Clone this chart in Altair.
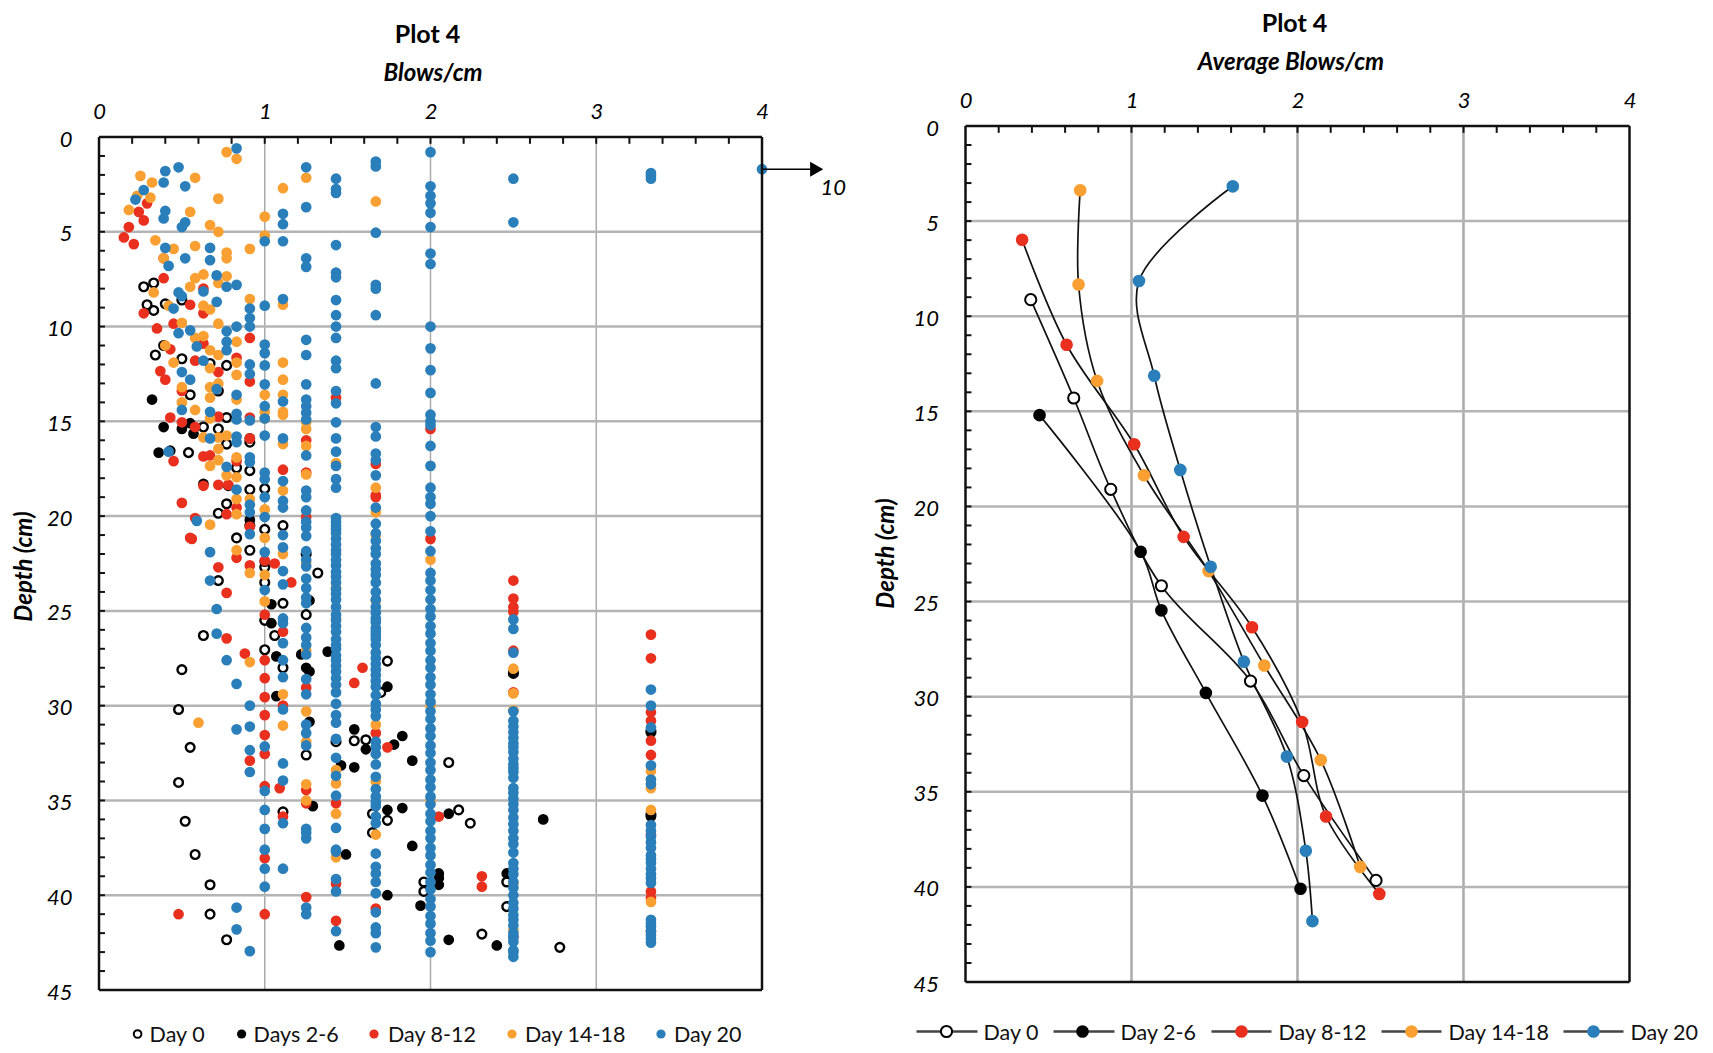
import altair as alt
import pandas as pd

FONT = "Lato"
COL = {"Day 0": "#ffffff", "Days 2-6": "#000000", "Day 8-12": "#e9301f",
       "Day 14-18": "#faa032", "Day 20": "#2a7fba"}

# ---- left panel: depth readings (cm) by blows/cm column ----
day0 = {
 .27:[7.9,], .33:[7.7,9.15], .29:[8.85], .4:[8.8], .39:[11], .34:[11.5], .5:[8.6,11.7,28.1],
 .67:[11.95,39.45,41], .77:[12.05,14.8,16.2,19.35,42.35], .55:[13.6,32.2], .72:[13.4,15.4,19.85,23.4],
 .63:[15.3,26.3], .54:[16.65], .91:[16.1,17.6,18.6,20.5,21.8], .83:[17.45,21.15],
 1.0:[18.55,20.7,22.7,23.5,25.5,27.05], 1.11:[20.5,24.6,28,35.6], 1.32:[23], 1.25:[22,25.2,32.6],
 1.06:[26.3], 1.74:[27.65,36.05], .48:[30.2,34.05], .52:[36.1], .58:[37.85],
 1.43:[31.9], 1.54:[31.85], 1.61:[31.8], 1.7:[29.3], 1.65:[35.7,36.7], 2.11:[33], 2.17:[35.5],
 2.24:[36.2], 2.31:[42.05], 2.78:[42.75], 2.5:[28.3], 2.46:[39.3,40.6], 1.96:[39.3,39.8], 3.33:[31.4,35.75],
}
day2_6 = {
 .32:[13.85], .39:[15.3], .5:[15.4], .55:[15.1], .57:[15.65], .36:[16.65], .43:[16.55],
 .63:[18.3], .78:[18.4], 1.04:[24.65,25.65], 1.27:[24.45,28.2,30.85], 1.07:[27.4,29.5], 1.22:[27.3],
 1.38:[27.15], 1.25:[28], 1.74:[29,35.5,40], 1.54:[31.25,33.25], 1.61:[32.3], 1.78:[32.05], 1.83:[31.6,35.4],
 1.89:[32.9,37.4], 1.46:[33.15], 1.29:[35.3], 1.49:[37.85], 1.94:[40.55], 1.45:[42.65],
 2.05:[38.85,39.1,39.45], 2.11:[35.7,42.35], 2.4:[42.65], 2.68:[36], 2.46:[38.85], 2.5:[28.25], 3.33:[31.3,35.85],
 .91:[15.9,20.2], 1.0:[22.4],
}
day8_12 = {
 .29:[3.5], .24:[3.95], .27:[4.4,9.3], .18:[4.75], .15:[5.3], .21:[5.65], .39:[6.4,7.45],
 .48:[7.4,9.1], .63:[8,9.3,10.9,16.85,18.4], .55:[8.85,21.15], .35:[10.1], .45:[9.85,17.1], .43:[11.2,14.8],
 .58:[11.8,15.3,20.1], .37:[12.35], .4:[12.8], .72:[12.4,14.75,18.35,22.7], .83:[11.65,17.1,19.55,22.2],
 .91:[10.6,12.9,14.8,15.9,20.55,22.6,32.9], 1.43:[13.75,35.15,39.4,41.35], .5:[13.4,15.05,19.3], .67:[16.8],
 1.11:[17.55,26.1,30,35.85], 1.25:[16,17.7,20.05,29.05,34.45,35.15,40.1], .78:[18.35], .77:[19.9,24.05,26.45],
 1.0:[22.35,25.2,27.6,28.55,29.55,30.5,31.55,32.55,34.25,38.05,41], 1.06:[22.5], 1.16:[23.5], .88:[27.25],
 1.67:[17.25,18.9,19,31.45,40.7], 2.0:[15.4,21.2], 1.59:[28], 1.54:[28.8], 1.74:[32.2], 2.05:[35.85], 1.09:[34.35],
 .48:[41,], .56:[21.2], 2.31:[39,39.55],
 2.5:[23.4,24.35,24.8,25.05,27.1,29.3,42.2], 3.33:[26.25,27.5,30.35,30.8,31.85,32.6,36.8,39.8,40.15,41.9],
}
day14_18 = {
 .77:[.8,6.1,6.4,7.35,15.75,17.85], .83:[1.15,10.8,11.9,12.55,13.85,16.9,17.95,19.1,19.9,21.8],
 .25:[2.05], .32:[2.4], .23:[3.1], .31:[3.2], .18:[3.85], .58:[2.15,5.75,7.45,10.6,14.4], .72:[3.25,5,7.7,9.85,11.5,13,15.85,16.45,17.05],
 .55:[3.95,7.9], .67:[4.65,9.1,11.25,12.2,13.2,13.75,14.85,17.35,20.45], .34:[5.45], .45:[5.9,11.9], .39:[6.4],
 .91:[5.9,8.55,19.1,23,27.7], 1.0:[4.2,5.2,13.6,14.5,14.85,19.65,21.15,23.1,24.5],
 1.11:[2.7,8.85,11.9,12.8,13.6,14.5,14.65,16.2,18.65,22,29.4,31.05], 1.25:[2.15,15.05,15.4,16.3,17.8,22.45,27.1,30.3,31.9,34.15,35],
 1.67:[3.4,18.5,19.8,21,24.45,31,34,36.8], .63:[7.25,8.9,10.5,15.85], .33:[8.2], .42:[8.9], .5:[9.8,13.2,14], .4:[11],
 1.43:[17.2,23.8,25.4,33.4,34.1,35.7,38], 2.0:[22.3,30,35], .6:[30.9],
 2.5:[28.05,29.35,30.25,39.35,41.85], 3.33:[33.45,34.35,35.5,40.35],
}
day20 = {
 .83:[.6,7.8,10,13.6,14.6,14.9,15.8,16.1,18.6,28.85,31.25,40.65,41.8], .4:[1.8,3.9,5.85], .48:[1.6,8.2,10.35], .39:[2.4,4.3],
 .52:[2.6,4.5,6.4], .27:[2.8], .22:[3.3], .5:[4.75,8.4,12.4,14.4], .67:[5.85,6.5,14.5,15.9,21.9,23.4], .42:[6.8,16.6],
 .71:[7.3,8.7,13.3,24.9,26.2], .77:[7.9,10.25,10.8,11.25,17.4,27.6], .63:[8.15,11.8], .45:[9.05], .55:[10.2,12.8], .59:[11.05,20.25],
 .91:[9.05,9.55,10,12,12.5,14.95,16.9,17.15,19.4,19.8,20.95,30,31.1,32.35,33.5,42.95],
 1.0:[5.5,8.9,10.95,11.4,12.05,13.05,14.2,14.85,15.75,17.7,18.05,19,20.05,21.9,23.9,32.15,34.5,35.5,36.5,37.6,38.6,39.55],
 1.11:[4.05,4.6,5.5,8.55,13.95,15.9,18.15,19.2,19.55,21,21.65,22.9,23.6,25.4,25.65,26.7,27.6,28.5,30.2,33.05,33.95,36.2,38.6],
 1.25:[1.6,3.7,6.4,6.85,10.7,11.5,13.05,13.85,14.2,14.55,14.9,16.8,18.65,19,19.7,20.3,20.6,21.05,21.85,22.3,22.65,23.3,23.8,24.3,24.6,25.9,26.4,26.8,27.3,28.6,29.4,31,31.45,32.1,36.5,36.7,37,40.65,41],
 1.43:[2.2,2.75,2.95,5.7,7.15,7.4,8.6,9.4,10,10.6,11.8,12.2,13.4,14.05,15.05,15.9,16.6,17.35,18.05,18.5,20.1,20.3,20.5,20.7,20.9,21.2,21.5,21.8,22,22.3,22.6,22.95,23.2,23.5,23.85,24.1,24.4,24.8,25.2,25.5,25.8,26.1,26.5,26.8,27,27.35,27.6,27.9,28.2,28.55,28.9,29.3,29.9,30.5,30.9,31.75,32.75,33.7,34.75,36.45,37.6,37.7,39.15,39.8,41.9],
 1.67:[1.3,1.55,5.05,7.8,8,9.4,13,15.3,15.8,16.7,17.05,17.85,19.55,20.4,20.9,21.3,21.7,22,22.5,22.8,23.1,23.5,24,24.4,24.8,25.1,25.4,25.6,25.9,26.1,26.3,26.5,26.8,27.2,27.5,27.8,28.1,28.4,28.7,29,29.45,29.9,30.2,30.55,31.9,32.2,32.55,33.1,33.75,34.4,34.8,35.1,35.3,35.85,36.2,37.8,38.5,38.85,39.3,39.9,40.9,41.7,42,42.75],
 2.0:[.8,2.6,3.1,3.5,4,4.75,6.15,6.7,10,11.15,12.3,13.5,14.65,15,15.2,16.3,17.35,18.5,19,19.35,20,20.8,21.85,23,23.4,23.9,24.4,24.9,25.3,25.8,26.2,26.7,27.1,27.6,28,28.5,28.9,29.4,29.8,30.3,30.7,31.2,31.6,32.1,32.5,33,33.4,33.9,34.3,34.8,35.2,35.7,36.1,36.6,37,37.5,37.9,38.4,38.8,39.3,39.7,40.2,40.6,41.1,41.5,42,42.4,43],
 2.5:[2.2,4.5,25.45,25.95,27.2,30.3,30.8,31.1,31.4,31.7,32,32.2,32.45,32.8,33.1,33.3,33.5,33.8,34.35,34.6,34.9,35.2,35.5,35.9,36.25,36.6,37,37.3,37.75,38.3,38.6,38.9,39.3,39.6,40,40.4,40.7,41.05,41.3,41.6,42,42.2,42.45,42.9,43,43.25],
 3.33:[1.9,2.05,2.2,29.15,30,31.15,33.15,33.9,34.15,36.3,36.6,36.9,37.2,37.5,37.9,38.1,38.3,38.6,38.9,39.1,39.35,41.3,41.5,41.65,41.9,42.1,42.3,42.5],
 4.0:[1.7],
}
scatter = [("Day 0", day0), ("Days 2-6", day2_6), ("Day 8-12", day8_12), ("Day 14-18", day14_18), ("Day 20", day20)]

# ---- right panel: averages (blows/cm, depth) ----
avg_day0 = ([.393,.652,.875,1.18,1.717,2.038,2.473], [9.13,14.3,19.1,24.17,29.18,34.15,39.66])
avg_day2_6 = ([.446,1.055,1.18,1.448,1.789,2.018], [15.2,22.38,25.46,29.8,35.2,40.1])
avg_day8_12 = ([.341,.609,1.016,1.314,1.726,2.028,2.172,2.493], [5.98,11.5,16.73,21.6,26.35,31.33,36.3,40.37])
avg_day14_18 = ([.691,.681,.793,1.075,1.464,1.80,2.14,2.378], [3.38,8.33,13.4,18.36,23.4,28.36,33.33,38.95])
avg_day20 = ([1.61,1.045,1.137,1.294,1.477,1.677,1.936,2.05,2.09], [3.17,8.15,13.13,18.08,23.17,28.16,33.15,38.1,41.8])
averages = [("Day 0", avg_day0), ("Day 2-6", avg_day2_6), ("Day 8-12", avg_day8_12), ("Day 14-18", avg_day14_18), ("Day 20", avg_day20)]
avg_col = dict(zip([a[0] for a in averages], COL.values()))

x_ticks = [0, 1, 2, 3, 4]
y_ticks = [0, 5, 10, 15, 20, 25, 30, 35, 40, 45]
x_grid = [1, 2, 3]
y_grid = [5, 10, 15, 20, 25, 30, 35, 40]
x_minor = [.2,.4,.6,.8,1,1.2,1.4,1.6,1.8,2,2.2,2.4,2.6,2.8,3,3.2,3.4,3.6,3.8]
y_minor = list(range(1, 45))
arrow_x = [4.0, 4.33]
arrow_depth = 1.7
TICK_D, TICK_X = 0.36, 0.036


def X(title, label_pad, title_pad, title_x):
    return alt.X("x:Q", scale=alt.Scale(domain=[0, 4], nice=False, zero=False),
                 axis=alt.Axis(orient="top", values=x_ticks, grid=False, domain=False, tickSize=0, format="d",
                               labelPadding=label_pad, labelFont=FONT, labelFontStyle="italic", labelFontSize=22, labelColor="#000",
                               labelFlush=False, title=title, titleFont=FONT, titleFontStyle="italic", titleFontWeight="bold",
                               titleFontSize=24, titleColor="#000", titlePadding=title_pad, titleX=title_x))


def Y(pad, rng, title_y):
    return alt.Y("d:Q", scale=alt.Scale(domain=[0, 45], range=rng, nice=False, zero=False),
                 axis=alt.Axis(values=y_ticks, grid=False, domain=False, tickSize=0, format="d",
                               labelPadding=27, labelFont=FONT, labelFontStyle="italic", labelFontSize=22, labelColor="#000",
                               labelFlush=False, labelBaseline="top", labelOffset=-8,
                               title="Depth (cm)", titleFont=FONT, titleFontStyle="italic", titleFontWeight="bold",
                               titleFontSize=24, titleColor="#000", titlePadding=pad, titleY=title_y))


def rules(df, xe, ye, **kw):
    return alt.Chart(df).mark_rule(**kw).encode(x=xe, x2=alt.X2("x2:Q"), y=ye, y2=alt.Y2("d2:Q"))


def frame_layers(xe, ye, xgw, ygw):
    v = lambda xs, a, b: pd.DataFrame({"x": xs, "x2": xs, "d": [a] * len(xs), "d2": [b] * len(xs)})
    h = lambda ds, a, b: pd.DataFrame({"d": ds, "d2": ds, "x": [a] * len(ds), "x2": [b] * len(ds)})
    under = [rules(v(x_grid, 0, 45), xe, ye, color="#aaaaaa", strokeWidth=xgw),
             rules(h(y_grid, 0, 4), xe, ye, color="#b4b4b4", strokeWidth=ygw)]
    over = [rules(v(x_minor, 0, TICK_D), xe, ye, color="#111", strokeWidth=2),
            rules(h(y_minor, 0, TICK_X), xe, ye, color="#111", strokeWidth=2),
            rules(v([0, 4], 0, 45), xe, ye, color="#111", strokeWidth=2.5),
            rules(h([0, 45], 0, 4), xe, ye, color="#111", strokeWidth=2.5)]
    return under, over


SHIFT = 11
W_L, H_L, W_R, H_R = 663, 853, 664, 856

# ---------- left ----------
xe, ye = X("Blows/cm", 14 - SHIFT, 15, W_L / 2 + 2), Y(10, [SHIFT, SHIFT + H_L], 440)
under, over = frame_layers(xe, ye, 1.5, 2.5)
layers = list(under)
for name, table in scatter:
    rows = [{"x": x, "d": d} for x, ds in table.items() for d in ds]
    df = pd.DataFrame(rows)
    if name == "Day 0":
        m = alt.Chart(df).mark_point(fill="#ffffff", stroke="#000", strokeWidth=2.4, size=76, opacity=1, filled=False)
    else:
        m = alt.Chart(df).mark_circle(color=COL[name], size=115, opacity=1)
    layers.append(m.encode(x=xe, y=ye))
layers += over
arrow = pd.DataFrame({"x": arrow_x, "d": [arrow_depth] * 2})
layers.append(alt.Chart(arrow).mark_line(color="#000", strokeWidth=1.5).encode(x=xe, y=ye))
layers.append(alt.Chart(arrow.tail(1)).mark_point(shape="triangle-right", filled=True, color="#000", size=230, opacity=1).encode(x=xe, y=ye))
layers.append(alt.Chart(pd.DataFrame({"x": [4.43], "d": [2.7], "t": ["10"]})).mark_text(
    font=FONT, fontStyle="italic", fontSize=22, color="#000").encode(x=xe, y=ye, text="t:N"))

leg_left = [("Day 0", 38.6, 50.6), ("Days 2-6", 142.6, 154.6), ("Day 8-12", 275, 289), ("Day 14-18", 413, 426), ("Day 20", 562, 575)]
lab = pd.DataFrame({"t": [0]})
for name, sx, tx in leg_left:
    if name == "Day 0":
        s = alt.Chart(lab).mark_point(fill="#fff", stroke="#000", strokeWidth=2, size=58, opacity=1, filled=False)
    else:
        s = alt.Chart(lab).mark_circle(color=COL[name], size=85, opacity=1)
    layers.append(s.encode(x=alt.value(sx), y=alt.value(897 + SHIFT)))
    layers.append(alt.Chart(pd.DataFrame({"t": [name]})).mark_text(font=FONT, fontSize=21.5, color="#111", align="left").encode(
        x=alt.value(tx), y=alt.value(899 + SHIFT), text="t:N"))

left = alt.layer(*layers).properties(
    width=W_L, height=H_L + SHIFT,
    title=alt.TitleParams("Plot 4", font=FONT, fontSize=25, fontWeight="bold", color="#000", offset=13, anchor="middle", dx=-3))

# ---------- right ----------
xe, ye = X("Average Blows/cm", 14, 15, W_R / 2 - 7), Y(14, [0, H_R], 427)
under, over = frame_layers(xe, ye, 2.5, 2.5)
layers = list(under)
for name, (xs, ds) in averages:
    df = pd.DataFrame({"x": xs, "d": ds, "o": range(len(xs))})
    layers.append(alt.Chart(df).mark_line(color="#111", strokeWidth=1.7, interpolate="catmull-rom").encode(
        x=xe, y=ye, order="o:Q"))
for name, (xs, ds) in averages:
    df = pd.DataFrame({"x": xs, "d": ds})
    if name == "Day 0":
        m = alt.Chart(df).mark_point(fill="#fff", stroke="#000", strokeWidth=2, size=125, opacity=1, filled=False)
    else:
        m = alt.Chart(df).mark_circle(color=avg_col[name], size=160, opacity=1)
    layers.append(m.encode(x=xe, y=ye))
layers += over

leg_right = [("Day 0", -49, 12, -19, 18), ("Day 2-6", 88, 149, 117, 155), ("Day 8-12", 246, 306, 276, 313),
             ("Day 14-18", 416, 476, 446, 483), ("Day 20", 598, 658, 628, 665)]
for name, x0, x1, cx, tx in leg_right:
    layers.append(alt.Chart(lab).mark_rule(color="#444", strokeWidth=2.5).encode(x=alt.value(x0), x2=alt.value(x1), y=alt.value(905.5)))
    if name == "Day 0":
        s = alt.Chart(lab).mark_point(fill="#fff", stroke="#000", strokeWidth=2, size=125, opacity=1, filled=False)
    else:
        s = alt.Chart(lab).mark_circle(color=avg_col[name], size=160, opacity=1)
    layers.append(s.encode(x=alt.value(cx), y=alt.value(905.5)))
    layers.append(alt.Chart(pd.DataFrame({"t": [name]})).mark_text(font=FONT, fontSize=21.5, color="#111", align="left").encode(
        x=alt.value(tx), y=alt.value(908), text="t:N"))

right = alt.layer(*layers).properties(
    width=W_R, height=H_R,
    title=alt.TitleParams("Plot 4", font=FONT, fontSize=25, fontWeight="bold", color="#000", offset=13, anchor="middle", dx=-3))

chart = alt.hconcat(left, right, spacing=26.5).properties(
    padding={"left": 3, "top": 3, "right": 0, "bottom": 0},
    background="#ffffff",
).configure_view(stroke="transparent").resolve_scale(x="independent", y="independent")

chart.save("out.html", embed_options={"renderer": "svg", "actions": False})
